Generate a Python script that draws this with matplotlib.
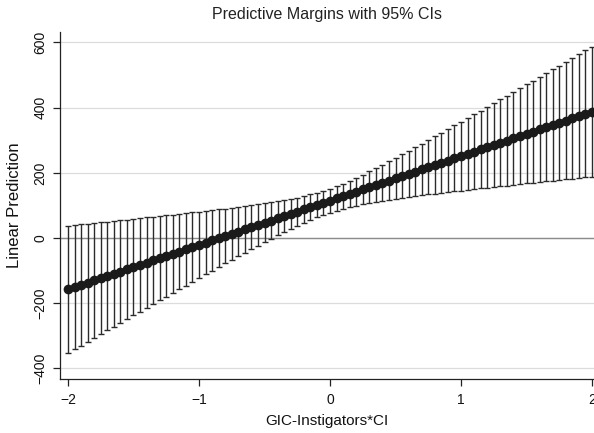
import matplotlib
matplotlib.use("Agg")
import matplotlib.pyplot as plt

plt.rcParams['font.family'] = ['Liberation Sans', 'DejaVu Sans']

x_values = [-2.00, -1.95, -1.90, -1.85, -1.80, -1.75, -1.70, -1.65, -1.60, -1.55,
            -1.50, -1.45, -1.40, -1.35, -1.30, -1.25, -1.20, -1.15, -1.10, -1.05,
            -1.00, -0.95, -0.90, -0.85, -0.80, -0.75, -0.70, -0.65, -0.60, -0.55,
            -0.50, -0.45, -0.40, -0.35, -0.30, -0.25, -0.20, -0.15, -0.10, -0.05,
            0.00, 0.05, 0.10, 0.15, 0.20, 0.25, 0.30, 0.35, 0.40, 0.45,
            0.50, 0.55, 0.60, 0.65, 0.70, 0.75, 0.80, 0.85, 0.90, 0.95,
            1.00, 1.05, 1.10, 1.15, 1.20, 1.25, 1.30, 1.35, 1.40, 1.45,
            1.50, 1.55, 1.60, 1.65, 1.70, 1.75, 1.80, 1.85, 1.90, 1.95, 2.00]

margin = [-157.5, -150.7, -143.9, -137.1, -130.3, -123.4, -116.6, -109.8, -103.0, -96.2,
          -89.4, -82.6, -75.8, -68.9, -62.1, -55.3, -48.5, -41.7, -34.9, -28.1,
          -21.3, -14.4, -7.6, -0.8, 6.0, 12.8, 19.6, 26.4, 33.3, 40.1,
          46.9, 53.7, 60.5, 67.3, 74.1, 80.9, 87.8, 94.6, 101.4, 108.2,
          115.0, 121.8, 128.6, 135.4, 142.3, 149.1, 155.9, 162.7, 169.5, 176.3,
          183.1, 189.9, 196.8, 203.6, 210.4, 217.2, 224.0, 230.8, 237.6, 244.4,
          251.3, 258.1, 264.9, 271.7, 278.5, 285.3, 292.1, 298.9, 305.8, 312.6,
          319.4, 326.2, 333.0, 339.8, 346.6, 353.4, 360.3, 367.1, 373.9, 380.7, 387.5]

ci_half = [195.5, 190.7, 186.0, 181.2, 176.5, 171.7, 167.0, 162.3, 157.6, 152.8,
           148.1, 143.4, 138.8, 134.1, 129.4, 124.8, 120.2, 115.6, 111.0, 106.4,
           101.9, 97.3, 92.9, 88.4, 84.1, 79.7, 75.5, 71.3, 67.1, 63.1,
           59.3, 55.5, 52.0, 48.7, 45.7, 43.0, 40.7, 38.9, 37.6, 36.9,
           36.8, 37.4, 38.6, 40.4, 42.6, 45.2, 48.2, 51.5, 55.0, 58.7,
           62.5, 66.5, 70.6, 74.8, 79.0, 83.4, 87.7, 92.2, 96.6, 101.1,
           105.7, 110.2, 114.8, 119.4, 124.0, 128.7, 133.3, 138.0, 142.7, 147.4,
           152.1, 156.8, 161.5, 166.2, 171.0, 175.7, 180.5, 185.2, 190.0, 194.7, 199.5]

x_ticks = [-2, -1, 0, 1, 2]
x_ticklabels = ['\u22122', '\u22121', '0', '1', '2']
y_ticks = [-400, -200, 0, 200, 400, 600]
y_ticklabels = ['\u2212400', '\u2212200', '0', '200', '400', '600']

W, H = 594, 433
fig = plt.figure(figsize=(W / 100, H / 100), dpi=100)
left, right, top, bottom = 60, 594, 32, 379
ax = fig.add_axes([left / W, 1 - bottom / H, (right - left) / W, (bottom - top) / H])

ax.set_xlim(-2.061, 2.015)
ax.set_ylim(-432.5, 632)

for yt in y_ticks:
    ax.axhline(yt, color='#dcdcdc', lw=0.9, zorder=0)
ax.axhline(0, color='#8c8c8c', lw=1.0, zorder=1)

ax.errorbar(x_values, margin, yerr=ci_half, fmt='none', ecolor='#2b2b2b',
            elinewidth=1.0, capsize=1.9, capthick=1.0, zorder=2)
ax.plot(x_values, margin, color='#1a1a1a', lw=2.0, marker='o', ms=6,
        markeredgecolor='#1a1a1a', markerfacecolor='#1a1a1a', zorder=3)

ax.spines['top'].set_visible(False)
ax.spines['right'].set_visible(False)
for s in ('left', 'bottom'):
    ax.spines[s].set_color('#222222')
    ax.spines[s].set_linewidth(0.9)

ax.set_xticks(x_ticks)
ax.set_xticklabels(x_ticklabels)
ax.set_yticks(y_ticks)
ax.set_yticklabels(y_ticklabels, rotation=90, va='center')
ax.tick_params(axis='both', direction='out', length=5, width=0.9, color='#222222',
               labelsize=10, labelcolor='#111111')
ax.tick_params(axis='x', pad=5)
ax.tick_params(axis='y', pad=4)

ax.set_xlabel('GIC-Instigators*CI', fontsize=11, color='#111111', labelpad=5)
ax.set_ylabel('Linear Prediction', fontsize=12, color='#111111', labelpad=8)
ax.set_title('Predictive Margins with 95% CIs', fontsize=11.5, color='#222222', pad=9.5)

fig.savefig('out.png', dpi=100, facecolor='white')
